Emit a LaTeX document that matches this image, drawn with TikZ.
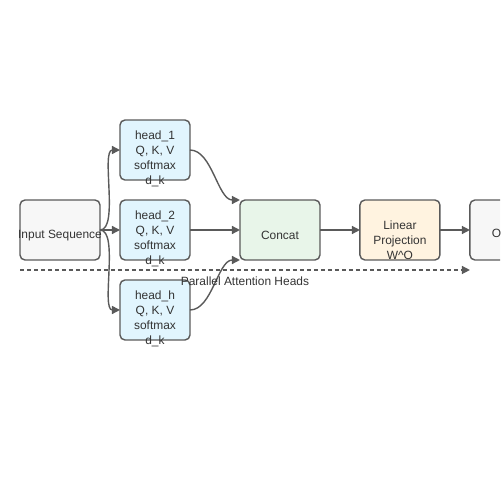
\documentclass[tikz,border=0pt]{standalone}
\usepackage{fontspec}
\setmainfont{Liberation Sans}
\usetikzlibrary{positioning, arrows.meta}
\definecolor{trazo}{HTML}{5A5A5A}
\definecolor{letra}{HTML}{333333}
\definecolor{gris}{HTML}{F7F7F7}
\definecolor{azul}{HTML}{E1F5FE}
\definecolor{verde}{HTML}{E8F5E9}
\definecolor{naranja}{HTML}{FFF3E0}
\tikzset{
	>={Triangle[length=0.16cm, width=0.16cm]}, % Punta de flecha triangular
	caja/.style={draw=trazo, line width=0.8pt, rounded corners=0.1cm, minimum width=1.6cm, minimum height=1.2cm, inner sep=0pt, outer sep=0pt}, % Propiedades de las cajas
	cabeza/.style={caja, fill=azul, minimum width=1.4cm}, % Cajas de las cabezas
	texto/.style={text=letra, align=center, font=\fontsize{6.8}{8.5}\selectfont, inner sep=0pt}, % Texto de las cajas
	flecha/.style={->, draw=trazo, line width=0.8pt} % Conectores
}

\begin{document}
\begin{tikzpicture}[x=0.02cm, y=-0.02cm]
	\clip (0,0) rectangle (500,500);
	\node[caja, fill=gris, label={[texto, yshift=-0.12cm]center:Input Sequence}] (ent) at (60,230) {};
	\node[cabeza, right=0.4cm of ent, label={[texto, yshift=-0.18cm]center:{head\_2\\Q, K, V\\softmax\\d\_k}}] (h2) {};
	\node[cabeza, above=0.4cm of h2, label={[texto, yshift=-0.18cm]center:{head\_1\\Q, K, V\\softmax\\d\_k}}] (h1) {};
	\node[cabeza, below=0.4cm of h2, label={[texto, yshift=-0.18cm]center:{head\_h\\Q, K, V\\softmax\\d\_k}}] (hh) {};
	\node[caja, fill=verde, right=1cm of h2, label={[texto, yshift=-0.1cm]center:Concat}] (cat) {};
	\node[caja, fill=naranja, right=0.8cm of cat, label={[texto, yshift=-0.2cm]center:{Linear\\Projection\\W\^{}O}}] (lin) {};
	\node[caja, fill=gris, right=0.6cm of lin, label={[texto, yshift=-0.1cm]center:Output}] (sal) {};
	\coordinate (ini) at ([yshift=-0.2cm]ent.south west);
	\coordinate (fin) at ([yshift=-0.2cm]sal.south west);
	\draw	(ent.east) edge[flecha, out=0, in=180, looseness=0.6] (h1.west)
			(ent.east) edge[flecha] (h2.west)
			(ent.east) edge[flecha, out=0, in=180, looseness=0.6] (hh.west)
			(h1.east) edge[flecha, out=0, in=180, looseness=0.8] (cat.north west)
			(h2.east) edge[flecha] (cat.west)
			(hh.east) edge[flecha, out=0, in=180, looseness=0.8] (cat.south west)
			(cat.east) edge[flecha] (lin.west)
			(lin.east) edge[flecha] (sal.west);
	\draw[flecha, dash pattern=on 0.08cm off 0.06cm] (ini) -- (fin)
			node[texto, midway, yshift=-0.22cm] (lema) {Parallel Attention Heads};
\end{tikzpicture}
\end{document}
